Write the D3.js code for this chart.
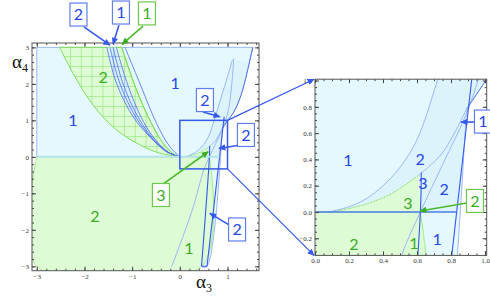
<!DOCTYPE html>
<html>
<head>
<meta charset="utf-8">
<title>alpha3 / alpha4 regions</title>
<script src="https://d3js.org/d3.v7.min.js"></script>
<style>
  body { margin: 0; background: #fff; }
  .lbl { font-family: Lato, "Open Sans", sans-serif; }
  .tick text { font-family: "Liberation Serif", serif; fill: #333; }
</style>
</head>
<body>
<div id="chart"></div>
<script>
// tick labels
var mainXTicks = [-3, -2, -1, 0, 1];
var mainYTicks = [-3, -2, -1, 0, 1, 2, 3];
var insetXTicks = [0, 0.2, 0.4, 0.6, 0.8, 1];
var insetYTicks = [-0.2, 0, 0.2, 0.4, 0.6, 0.8, 1];

// curves, as [alpha3, alpha4]
var curveC = [[1.53, 3], [1.46, 2.6], [1.38, 2.15], [1.28, 1.68], [1.14, 1.25], [1.0, 0.99], [0.89, 0.78]];
var curveCLow = [[0.89, 0.78], [0.75, 0.45], [0.61, 0.28]];
var steepLine = [[0.93, 1.1], [0.57, -3]];
var stripLeft = [[0.455, -3], [0.62, 0], [0.625, 0.3]];
var lineB = [[-0.17, -3], [0.25, -1.5], [0.51, -0.33], [0.62, 0], [0.75, 0.36], [0.9, 0.78], [1.02, 1.3], [1.09, 2.0], [1.13, 2.7]];
var parabolaA = [[0.08, 0], [0.2, 0.04], [0.3, 0.1], [0.4, 0.2], [0.5, 0.34], [0.6, 0.55], [0.72, 1.0], [0.86, 1.6], [1.0, 2.2], [1.1, 2.65]];
var greenCurve = [[0.1, 0], [0.3, 0.06], [0.45, 0.14], [0.61, 0.28]];
var hatchLeft = [[-2.52, 3], [-2.24, 2.29], [-1.82, 1.42], [-1.33, 0.74], [-0.84, 0.33], [-0.42, 0.1], [0, 0]];
var hatchRight = [[0, 0], [-0.1, 0.05], [-0.35, 0.37], [-0.63, 1.01], [-0.91, 1.84], [-1.22, 3]];
var bundle = [
  [[-1.53, 3], [-1.33, 2.02], [-0.98, 1.1], [-0.63, 0.55], [-0.28, 0.14], [0, 0]],
  [[-1.465, 3], [-1.26, 2.02], [-0.92, 1.08], [-0.58, 0.5], [-0.26, 0.13], [0, 0]],
  [[-1.4, 3], [-1.19, 2.0], [-0.86, 1.05], [-0.54, 0.47], [-0.24, 0.12], [0, 0]],
  [[-1.33, 3], [-1.1, 2.0], [-0.79, 1.03], [-0.5, 0.45], [-0.22, 0.11], [0, 0]],
  [[-1.15, 3], [-0.84, 2.02], [-0.49, 0.92], [-0.21, 0.28], [0, 0]]
];
var zoomBox = [[0, -0.33], [1, 1]];

// region numbers
var mainLabels = [
  { t: '1', c: 'b', at: [-2.24, 1.0] }, { t: '1', c: 'b', at: [-0.1, 2.02] },
  { t: '2', c: 'g', at: [-1.61, 2.19] }, { t: '2', c: 'g', at: [-1.78, -1.64] },
  { t: '1', c: 'g', at: [0.19, -2.5] }
];
var insetLabels = [
  { t: '1', c: 'b', at: [0.194, 0.395] }, { t: '2', c: 'b', at: [0.618, 0.4] },
  { t: '3', c: 'b', at: [0.635, 0.22] }, { t: '2', c: 'b', at: [0.759, 0.175] },
  { t: '3', c: 'g', at: [0.547, 0.068] }, { t: '2', c: 'g', at: [0.229, -0.243] },
  { t: '1', c: 'g', at: [0.582, -0.236] }, { t: '1', c: 'b', at: [0.718, -0.205] }
];
// boxed call-outs: box centre, arrow tail, arrow tip
var mainNotes = [
  { t: '2', c: 'b', at: [-2.126, 3.9], tail: [-2.01, 3.56], tip: [-1.465, 3.06] },
  { t: '1', c: 'b', at: [-1.235, 3.955], tail: [-1.277, 3.61], tip: [-1.4, 3.09] },
  { t: '1', c: 'g', at: [-0.69, 3.93], tail: [-0.77, 3.58], tip: [-1.21, 3.09] },
  { t: '2', c: 'b', at: [0.526, 1.557], tail: [0.484, 1.23], tip: [0.84, 1.1] },
  { t: '2', c: 'b', at: [1.386, 0.6], tail: [1.24, 0.32], tip: [0.82, 0.23] },
  { t: '3', c: 'g', at: [-0.396, -1.045], tail: [-0.354, -0.745], tip: [0.595, 0.14] },
  { t: '2', c: 'b', at: [1.2, -1.99], tail: [1.1, -1.92], tip: [0.63, -1.55] }
];
var insetNotes = [
  { t: '1', c: 'b', at: [0.988, 0.688], tail: [0.947, 0.684], tip: [0.859, 0.684] },
  { t: '2', c: 'g', at: [0.941, 0.084], tail: [0.894, 0.068], tip: [0.618, 0.008] }
];

var col = {
  blueFill: '#e4f8fd', blueFill2: '#dcf3fc', greenFill: '#ddfbd4',
  blue: '#3559ee', paleBlue: '#9ab8f7', green: '#7ddf5c', mesh: '#78e052',
  tb: '#2546e2', tg: '#3aab22'
};

var svg = d3.select('#chart').append('svg').attr('width', 490).attr('height', 296);
var defs = svg.append('defs');

var xMain = d3.scaleLinear().domain([-3.1, 1.66]).range([32, 259]);
var yMain = d3.scaleLinear().domain([-3.12, 3.12]).range([270.7, 43]);
var xIn = d3.scaleLinear().domain([0, 1.01]).range([315, 486.7]);
var yIn = d3.scaleLinear().domain([-0.33, 1.01]).range([255.4, 79.2]);

// mesh patterns
function mesh(id, stroke, bg) {
  var p = defs.append('pattern').attr('id', id).attr('patternUnits', 'userSpaceOnUse')
    .attr('x', 70).attr('y', 56).attr('width', 10.8).attr('height', 10);
  p.append('rect').attr('width', 10.8).attr('height', 10).attr('fill', bg);
  p.append('path').attr('d', 'M0,0V10M0,0H10.8').attr('stroke', stroke).attr('stroke-width', 0.9);
}
mesh('gmesh', col.mesh, col.greenFill);
mesh('bmesh', '#7090f2', 'rgba(215,240,252,0.8)');

['b', 'g'].forEach(function(k) {
  defs.append('marker').attr('id', 'arr' + k).attr('viewBox', '0 0 10 10')
    .attr('refX', 9).attr('refY', 5).attr('markerWidth', 8).attr('markerHeight', 7)
    .attr('markerUnits', 'userSpaceOnUse').attr('orient', 'auto')
    .append('path').attr('d', 'M0,0.5L10,5L0,9.5z').attr('fill', k == 'b' ? col.blue : '#3cb024');
});

function clip(id, x, y) {
  defs.append('clipPath').attr('id', id).append('rect')
    .attr('x', x.range()[0]).attr('y', y.range()[1])
    .attr('width', x.range()[1] - x.range()[0]).attr('height', y.range()[0] - y.range()[1]);
}
clip('cMain', xMain, yMain);
clip('cIn', xIn, yIn);

function drawPanel(x, y, inset) {
  var g = svg.append('g').attr('clip-path', 'url(#' + (inset ? 'cIn' : 'cMain') + ')');
  var ln = d3.line().x(function(d) { return x(d[0]); }).y(function(d) { return y(d[1]); });
  function path(pts) { return ln.curve(pts.length > 2 ? d3.curveCatmullRom : d3.curveLinear)(pts); }
  function shape(parts) {
    return parts.map(function(p, i) { var d = path(p); return i ? 'L' + d.slice(1) : d; }).join('') + 'Z';
  }
  function stroke(pts, c, w, dash) {
    g.append('path').attr('d', path(pts)).attr('fill', 'none').attr('stroke', c)
      .attr('stroke-width', w).attr('stroke-dasharray', dash || null);
  }

  // light blue region
  g.append('path').attr('d', shape([[[-3, 0], [-3, 3]], curveC, [[0.89, 0.78], [0.57, -3], [0.455, -3], [0.62, 0]]]))
    .attr('fill', col.blueFill).attr('stroke', col.paleBlue).attr('stroke-width', 1);
  // slightly darker region right of parabola A
  g.append('path').attr('d', shape([parabolaA, curveC.slice(1), [[0.89, 0.78], [0.833, 0]]]))
    .attr('fill', col.blueFill2);
  // green regions
  g.append('path').attr('d', shape([[[-3, 0], [-3, -3], [0.455, -3], [0.62, 0]]]))
    .attr('fill', col.greenFill).attr('stroke', '#a6ea8c').attr('stroke-width', 1);
  g.append('path').attr('d', shape([greenCurve, [[0.61, 0.28], [0.62, 0]]]))
    .attr('fill', col.greenFill);
  // hatched region and blue meshed strip
  g.append('path').attr('d', shape([hatchLeft, hatchRight]))
    .attr('fill', 'url(#gmesh)').attr('stroke', col.green).attr('stroke-width', 1);
  g.append('path').attr('d', shape([bundle[0], bundle[3].slice().reverse()]))
    .attr('fill', 'url(#bmesh)');

  // boundary lines
  stroke(parabolaA, col.paleBlue, 1);
  stroke(lineB, col.paleBlue, 1);
  stroke(curveCLow, col.paleBlue, 1);
  stroke(greenCurve, '#8fe070', 1, '2,1');
  stroke(curveC, '#5071ef', 1);
  stroke(steepLine, col.blue, 1.1);
  stroke(stripLeft, col.blue, 1.1);
  stroke([[0.455, -3], [0.57, -3]], col.blue, 1.1);
  stroke(hatchRight, col.green, 1);
  bundle.forEach(function(b) { stroke(b, '#4a6cf0', 0.8); });
  if (inset) stroke([[0, 0], [0.833, 0]], '#4a7ee9', 1.6);
  else stroke([[-3, 0], [0.833, 0]], '#b6e2ee', 2);

  (inset ? insetLabels : mainLabels).forEach(function(l) {
    svg.append('text').attr('class', 'lbl').attr('x', x(l.at[0])).attr('y', y(l.at[1]))
      .attr('text-anchor', 'middle').attr('dy', '0.36em').attr('font-size', 16)
      .attr('fill', l.c == 'b' ? col.tb : col.tg).text(l.t);
  });
}

function frame(x, y, xt, yt, xn, yn, fmt) {
  var g = svg.append('g');
  var x0 = x.range()[0], x1 = x.range()[1], y0 = y.range()[0], y1 = y.range()[1];
  function put(axis, tx, ty, vals, size, labels) {
    var a = g.append('g').attr('transform', 'translate(' + tx + ',' + ty + ')')
      .call(axis.tickValues(vals).tickSize(-size).tickPadding(3).tickFormat(labels ? fmt : ''));
    a.select('.domain').remove();
    a.selectAll('line').attr('stroke', '#444');
    a.selectAll('text').attr('font-size', 7);
  }
  put(d3.axisBottom(x), 0, y0, xt, 4, true);
  put(d3.axisBottom(x), 0, y0, x.ticks(xn), 2, false);
  put(d3.axisTop(x), 0, y1, xt, 4, false);
  put(d3.axisTop(x), 0, y1, x.ticks(xn), 2, false);
  put(d3.axisLeft(y), x0, 0, yt, 4, true);
  put(d3.axisLeft(y), x0, 0, y.ticks(yn), 2, false);
  put(d3.axisRight(y), x1, 0, yt, 4, false);
  put(d3.axisRight(y), x1, 0, y.ticks(yn), 2, false);
  g.append('rect').attr('x', x0).attr('y', y1).attr('width', x1 - x0).attr('height', y0 - y1)
    .attr('fill', 'none').attr('stroke', '#555').attr('stroke-width', 1);
}

function notes(list, x, y) {
  list.forEach(function(n) {
    var c = n.c == 'b' ? col.blue : '#4cb82c';
    svg.append('line').attr('x1', x(n.tail[0])).attr('y1', y(n.tail[1]))
      .attr('x2', x(n.tip[0])).attr('y2', y(n.tip[1]))
      .attr('stroke', c).attr('stroke-width', 1.6).attr('marker-end', 'url(#arr' + n.c + ')');
    var cx = x(n.at[0]), cy = y(n.at[1]);
    svg.append('rect').attr('x', cx - 8.5).attr('y', cy - 11.5).attr('width', 17).attr('height', 23)
      .attr('fill', '#fff').attr('stroke', n.c == 'b' ? '#5f7ff0' : '#6cc94c').attr('stroke-width', 1.2);
    svg.append('text').attr('class', 'lbl').attr('x', cx).attr('y', cy).attr('dy', '0.36em')
      .attr('text-anchor', 'middle').attr('font-size', 16)
      .attr('fill', n.c == 'b' ? col.tb : col.tg).text(n.t);
  });
}

drawPanel(xMain, yMain, false);
frame(xMain, yMain, mainXTicks, mainYTicks, 24, 30, d3.format(''));
drawPanel(xIn, yIn, true);
frame(xIn, yIn, insetXTicks, insetYTicks, 20, 26, d3.format('.1f'));

// zoom rectangle and connectors
svg.append('rect').attr('x', xMain(zoomBox[0][0])).attr('y', yMain(zoomBox[1][1]))
  .attr('width', xMain(zoomBox[1][0]) - xMain(zoomBox[0][0]))
  .attr('height', yMain(zoomBox[0][1]) - yMain(zoomBox[1][1]))
  .attr('fill', 'none').attr('stroke', col.blue).attr('stroke-width', 1.5);
[[zoomBox[1][1], 1.01], [zoomBox[0][1], -0.33]].forEach(function(p) {
  svg.append('line').attr('x1', xMain(zoomBox[1][0])).attr('y1', yMain(p[0]))
    .attr('x2', xIn(0) - 1).attr('y2', yIn(p[1]))
    .attr('stroke', col.blue).attr('stroke-width', 1.2).attr('marker-end', 'url(#arrb)');
});

notes(mainNotes, xMain, yMain);
notes(insetNotes, xIn, yIn);

// axis titles
var t4 = svg.append('text').attr('x', 12).attr('y', 68).attr('font-family', '"Liberation Serif", serif').attr('fill', '#111');
t4.append('tspan').attr('font-size', 19).text('α');
t4.append('tspan').attr('font-size', 12).attr('dy', 4).text('4');
var t3 = svg.append('text').attr('x', 196).attr('y', 288).attr('font-family', '"Liberation Serif", serif').attr('fill', '#111');
t3.append('tspan').attr('font-size', 19).text('α');
t3.append('tspan').attr('font-size', 12).attr('dy', 4).text('3');
</script>
</body>
</html>
